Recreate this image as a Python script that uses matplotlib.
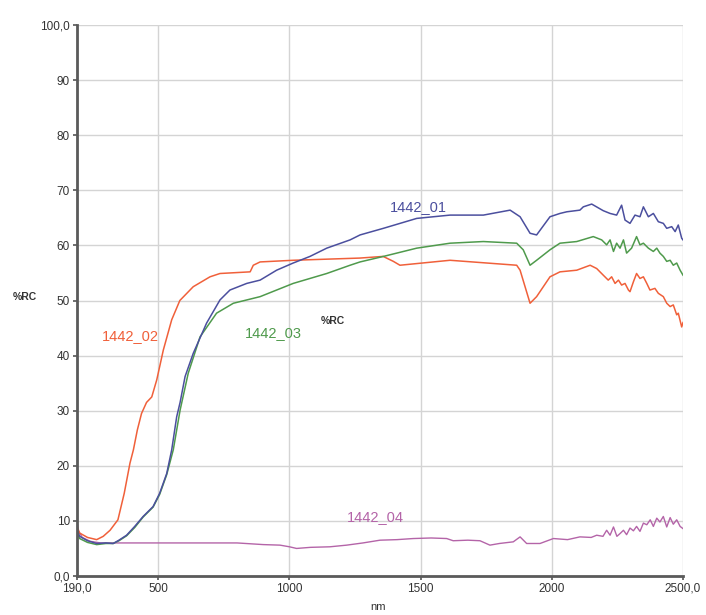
import matplotlib
matplotlib.use("Agg")
from matplotlib import pyplot as plt
from matplotlib.ticker import FixedLocator, FixedFormatter

plt.rcParams["font.family"] = ["Liberation Sans", "DejaVu Sans"]

# reflectance spectra, %RC vs wavelength (nm)
nm_01 = [190, 200, 230, 265, 300, 328, 350, 379, 410, 442, 480, 505, 532, 551, 570, 583,
         602, 633, 684, 735, 773, 837, 888, 951, 1014, 1078, 1142, 1231, 1269, 1358, 1485,
         1612, 1739, 1841, 1879, 1917, 1942, 1993, 2031, 2057, 2107, 2120, 2152, 2196, 2222,
         2247, 2266, 2279, 2298, 2317, 2336, 2349, 2368, 2387, 2406, 2425, 2438, 2457, 2470,
         2482, 2495, 2500]
rc_01 = [8.5, 7.2, 6.4, 5.9, 6.0, 5.9, 6.5, 7.4, 9.0, 10.8, 12.6, 15.0, 18.6, 22.9, 28.9, 31.5,
         36.2, 40.4, 45.9, 50.1, 51.9, 53.1, 53.7, 55.5, 56.8, 58.0, 59.5, 61.0, 61.9, 63.1, 64.9,
         65.5, 65.5, 66.4, 65.2, 62.2, 61.9, 65.2, 65.8, 66.1, 66.4, 67.0, 67.5, 66.3, 65.8,
         65.5, 67.3, 64.6, 64.0, 65.5, 65.2, 67.0, 65.2, 65.8, 64.3, 64.0, 63.1, 63.4, 62.5,
         63.7, 61.3, 61.0]

nm_02 = [190, 200, 230, 265, 290, 316, 346, 370, 392, 405, 420, 436, 455, 475, 494, 519, 551,
         582, 633, 697, 735, 850, 862, 888, 1014, 1268, 1357, 1396, 1421, 1612, 1866, 1879,
         1917, 1942, 1993, 2031, 2095, 2146, 2171, 2196, 2215, 2228, 2241, 2254, 2266, 2279,
         2292, 2298, 2311, 2323, 2336, 2349, 2362, 2374, 2393, 2406, 2425, 2438, 2451, 2463,
         2476, 2482, 2495, 2500]
rc_02 = [9.0, 7.8, 7.0, 6.6, 7.2, 8.3, 10.2, 15.0, 20.5, 22.9, 26.5, 29.5, 31.5, 32.5, 35.6,
         41.0, 46.5, 50.0, 52.5, 54.3, 54.9, 55.2, 56.4, 57.0, 57.3, 57.7, 58.0, 57.1, 56.4,
         57.3, 56.4, 55.5, 49.5, 50.7, 54.3, 55.2, 55.5, 56.4, 55.8, 54.6, 53.7, 54.3, 53.1,
         53.7, 52.8, 53.1, 51.9, 51.6, 53.4, 54.9, 54.0, 54.3, 53.1, 51.9, 52.2, 51.3, 50.7,
         49.5, 48.9, 49.2, 47.4, 47.7, 45.2, 46.0]

nm_03 = [190, 200, 230, 265, 300, 328, 350, 379, 410, 442, 480, 505, 532, 557, 583, 614, 659,
         722, 786, 837, 888, 1014, 1142, 1231, 1269, 1358, 1485, 1612, 1739, 1866, 1891, 1917,
         1942, 1993, 2031, 2095, 2158, 2190, 2209, 2222, 2235, 2247, 2260, 2273, 2285, 2304,
         2323, 2336, 2349, 2368, 2387, 2400, 2412, 2425, 2438, 2451, 2463, 2476, 2489, 2500]
rc_03 = [8.0, 6.8, 6.1, 5.7, 5.9, 5.9, 6.4, 7.3, 8.8, 10.7, 12.5, 14.8, 18.4, 22.9, 30.1,
         36.8, 43.4, 47.7, 49.5, 50.1, 50.7, 53.1, 54.9, 56.4, 57.0, 58.0, 59.5, 60.4, 60.7,
         60.4, 59.2, 56.4, 57.3, 59.2, 60.4, 60.7, 61.6, 61.0, 60.1, 61.0, 58.9, 60.4, 59.5,
         61.0, 58.6, 59.5, 61.6, 60.1, 60.4, 59.5, 58.9, 59.5, 58.6, 58.0, 57.1, 57.3, 56.4,
         56.8, 55.5, 54.6]

nm_04 = [190, 195, 210, 240, 280, 330, 400, 500, 650, 800, 900, 964, 1000, 1027, 1080, 1154,
         1218, 1280, 1345, 1410, 1472, 1540, 1599, 1624, 1680, 1726, 1764, 1800, 1853, 1879,
         1904, 1955, 2006, 2060, 2107, 2150, 2171, 2195, 2209, 2222, 2235, 2248, 2260, 2273,
         2285, 2298, 2311, 2323, 2336, 2349, 2362, 2375, 2387, 2400, 2412, 2425, 2438, 2451,
         2463, 2476, 2489, 2500]
rc_04 = [10.0, 8.2, 7.0, 6.3, 6.0, 6.0, 6.0, 6.0, 6.0, 6.0, 5.7, 5.6, 5.3, 5.0, 5.2, 5.3,
         5.6, 6.0, 6.5, 6.6, 6.8, 6.9, 6.8, 6.4, 6.5, 6.4, 5.6, 5.9, 6.2, 7.1, 5.9, 5.9,
         6.8, 6.6, 7.1, 7.0, 7.4, 7.2, 8.3, 7.4, 8.9, 7.2, 7.7, 8.3, 7.5, 8.7, 8.2, 9.0,
         8.1, 9.6, 9.3, 10.2, 9.0, 10.5, 9.8, 10.8, 8.9, 10.6, 9.4, 10.2, 9.0, 8.6]

x_ticks = [190, 500, 1000, 1500, 2000, 2500]
x_tick_labels = ["190,0", "500", "1000", "1500", "2000", "2500,0"]
y_ticks = [0, 10, 20, 30, 40, 50, 60, 70, 80, 90, 100]
y_tick_labels = ["0,0", "10", "20", "30", "40", "50", "60", "70", "80", "90", "100,0"]

c_01 = "#4b4f9e"
c_02 = "#f0603a"
c_03 = "#4f9a4c"
c_04 = "#b464a8"

fig = plt.figure(figsize=(7.06, 6.15), dpi=100)
ax = fig.add_axes([77 / 706, 39 / 615, 606 / 706, 551 / 615])

ax.plot(nm_04, rc_04, color=c_04, lw=1.0)
ax.plot(nm_02, rc_02, color=c_02, lw=1.1)
ax.plot(nm_03, rc_03, color=c_03, lw=1.1)
ax.plot(nm_01, rc_01, color=c_01, lw=1.1)

ax.set_xlim(190, 2500)
ax.set_ylim(0, 100)

# grid only at the labelled ticks
for v in x_ticks[1:]:
    ax.axvline(v, color="#d4d4d4", lw=1.0, zorder=0)
for v in y_ticks[1:]:
    ax.axhline(v, color="#d4d4d4", lw=1.0, zorder=0)

ax.xaxis.set_major_locator(FixedLocator(x_ticks))
ax.xaxis.set_major_formatter(FixedFormatter(x_tick_labels))
ax.yaxis.set_major_locator(FixedLocator(y_ticks))
ax.yaxis.set_major_formatter(FixedFormatter(y_tick_labels))
ax.tick_params(axis="both", length=3, width=1.2, color="#555555",
               labelsize=8.5, labelcolor="#333333", pad=2)

for side in ["top", "right"]:
    ax.spines[side].set_visible(False)
for side in ["left", "bottom"]:
    ax.spines[side].set_color("#5a5a5a")
    ax.spines[side].set_linewidth(2)

# curve labels
ax.text(1490, 67.0, "1442_01", color=c_01, fontsize=10.5, ha="center", va="center")
ax.text(392, 43.6, "1442_02", color=c_02, fontsize=10.5, ha="center", va="center")
ax.text(937, 44.1, "1442_03", color=c_03, fontsize=10.5, ha="center", va="center")
ax.text(1326, 10.7, "1442_04", color=c_04, fontsize=10.5, ha="center", va="center")

fig.text(25 / 706, 1 - 297 / 615, "%RC", fontsize=7.5, fontweight="bold",
         color="#333333", ha="center", va="center")
fig.text(333 / 706, 1 - 321 / 615, "%RC", fontsize=7.5, fontweight="bold",
         color="#333333", ha="center", va="center")
fig.text(378 / 706, 1 - 607 / 615, "nm", fontsize=8, color="#333333",
         ha="center", va="center")

fig.savefig("out.png", dpi=100)
